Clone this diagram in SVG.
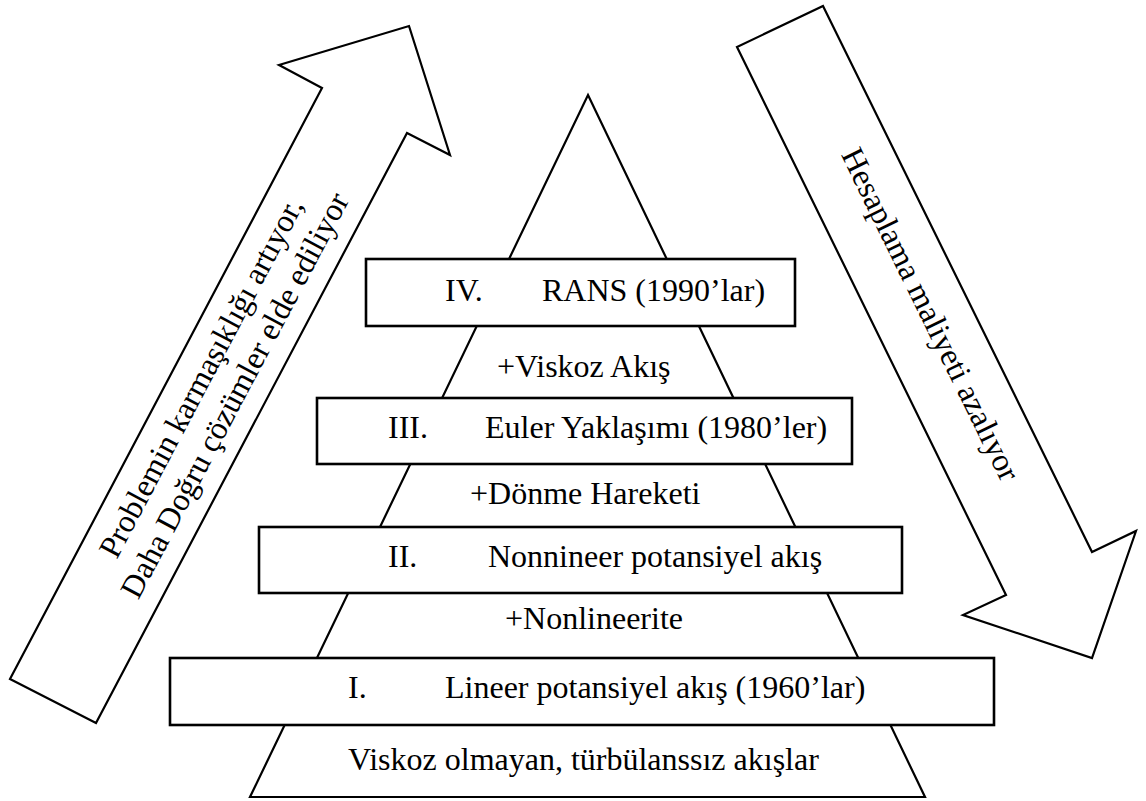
<svg xmlns="http://www.w3.org/2000/svg" width="1146" height="801" viewBox="0 0 1146 801">
<style>
.sh{fill:#fff;stroke:#000;stroke-width:2.2;stroke-linejoin:miter}
.bx{fill:#fff;stroke:#000;stroke-width:2.6}
.t{font-family:"Liberation Serif","Times New Roman",serif;font-size:32px;fill:#000}
.c{text-anchor:middle}
</style>
<rect width="1146" height="801" fill="#fff"/>
<g id="arrow-left">
<polygon class="sh" points="409,26 450,155 407,133 96,723 10,679 322,88 279,65"/>
<g transform="translate(221,388) rotate(-62.2)">
<text class="t c" x="0" y="-12">Problemin karmaşıklığı artıyor,</text>
<text class="t c" x="0" y="26">Daha Doğru çözümler elde ediliyor</text>
</g>
</g>
<g id="arrow-right">
<polygon class="sh" points="823,6 1092,552 1136,531 1092,658 963,615 1006,595 737,47"/>
<text class="t c" transform="translate(923,318) rotate(63.9)" x="0" y="2">Hesaplama maliyeti azalıyor</text>
</g>
<g id="pyramid">
<polygon class="sh" points="588,95 925,797 250,797"/>
<text class="t" x="348" y="770">Viskoz olmayan, türbülanssız akışlar</text>
</g>
<g id="connectors">
<text class="t" x="497" y="377">+Viskoz Akış</text>
<text class="t" x="470" y="504">+Dönme Hareketi</text>
<text class="t" x="505" y="629">+Nonlineerite</text>
</g>
<g id="level-4">
<rect class="bx" x="366" y="259" width="429" height="67"/>
<text class="t" x="445" y="301">IV.</text>
<text class="t" x="542" y="301">RANS (1990’lar)</text>
</g>
<g id="level-3">
<rect class="bx" x="317" y="398" width="535" height="66"/>
<text class="t" x="388" y="438">III.</text>
<text class="t" x="485" y="438">Euler Yaklaşımı (1980’ler)</text>
</g>
<g id="level-2">
<rect class="bx" x="259" y="527" width="643" height="66"/>
<text class="t" x="388" y="567">II.</text>
<text class="t" x="488" y="567">Nonnineer potansiyel akış</text>
</g>
<g id="level-1">
<rect class="bx" x="170" y="658" width="824" height="67"/>
<text class="t" x="348" y="698">I.</text>
<text class="t" x="445" y="698">Lineer potansiyel akış (1960’lar)</text>
</g>
</svg>
